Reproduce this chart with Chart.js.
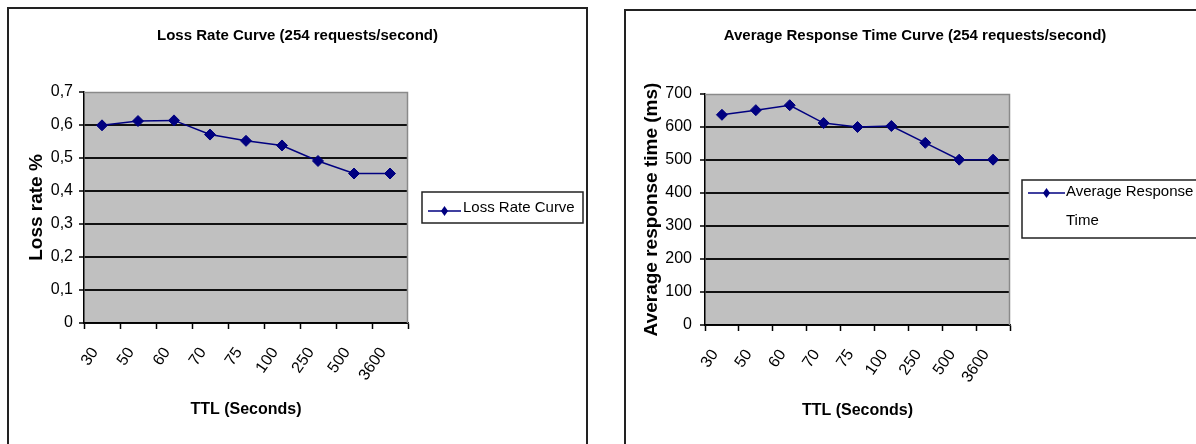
<!DOCTYPE html>
<html>
<head>
<meta charset="utf-8">
<title>TTL curves</title>
<script src="https://cdn.jsdelivr.net/npm/chart.js@4/dist/chart.umd.min.js"></script>
<style>
  html, body { margin: 0; padding: 0; background: #fff; }
  body { width: 1196px; height: 444px; overflow: hidden; position: relative; }
  .frame { position: absolute; box-sizing: border-box; border: 2px solid #222; background: #fff; overflow: hidden; }
  #frameLoss { left: 7px; top: 7px; width: 581px; height: 470px; }
  #frameResp { left: 624px; top: 9px; width: 610px; height: 470px; }
  canvas { display: block; }
</style>
</head>
<body>
<div class="frame" id="frameLoss"><canvas id="lossChart" width="577" height="436"></canvas></div>
<div class="frame" id="frameResp"><canvas id="respChart" width="578" height="436"></canvas></div>
<script>
// TTL values tested (seconds)
const ttlLabels = ['30', '50', '60', '70', '75', '100', '250', '500', '3600'];

// Loss rate (%) at 254 requests/second
const lossRate = [0.599, 0.612, 0.614, 0.571, 0.552, 0.538, 0.491, 0.453, 0.453];
const lossTicks = ['0', '0,1', '0,2', '0,3', '0,4', '0,5', '0,6', '0,7'];

// Average response time (ms) at 254 requests/second
const responseTime = [637, 651, 666, 612, 600, 603, 552, 501, 501];
const responseTicks = ['0', '100', '200', '300', '400', '500', '600', '700'];

const FONT = '"Liberation Sans", Arial, sans-serif';
const NAVY = '#000080';

// Grey plot area with a thin grey frame on the top and right edges
const plotFrame = {
  id: 'plotFrame',
  beforeDraw(chart) {
    const { ctx, chartArea: a } = chart;
    ctx.save();
    ctx.fillStyle = '#c0c0c0';
    ctx.fillRect(a.left, a.top, a.right - a.left, a.bottom - a.top);
    ctx.restore();
  },
  beforeDatasetsDraw(chart) {
    const { ctx, chartArea: a } = chart;
    ctx.save();
    ctx.strokeStyle = '#8a8a8a';
    ctx.lineWidth = 1.5;
    ctx.beginPath();
    ctx.moveTo(a.left, a.top + 0.5);
    ctx.lineTo(a.right - 0.5, a.top + 0.5);
    ctx.lineTo(a.right - 0.5, a.bottom);
    ctx.stroke();
    ctx.restore();
  }
};

// Boxed series key to the right of the plot
const seriesKey = {
  id: 'seriesKey',
  afterDraw(chart, args, opts) {
    const { ctx, chartArea: a } = chart;
    const ds = chart.data.datasets[0];
    const x = a.right + opts.dx, y = a.top + opts.dy;
    ctx.save();
    ctx.fillStyle = '#fff';
    ctx.fillRect(x, y, opts.w, opts.h);
    ctx.strokeStyle = '#222';
    ctx.lineWidth = 1.5;
    ctx.strokeRect(x, y, opts.w, opts.h);
    // sample line with marker
    const ly = y + opts.lineY;
    ctx.strokeStyle = ds.borderColor;
    ctx.lineWidth = 1.5;
    ctx.beginPath();
    ctx.moveTo(x + 6, ly);
    ctx.lineTo(x + 6 + opts.lineLen, ly);
    ctx.stroke();
    const mx = x + 6 + opts.lineLen / 2;
    ctx.fillStyle = ds.borderColor;
    ctx.beginPath();
    ctx.moveTo(mx, ly - 5);
    ctx.lineTo(mx + 3.5, ly);
    ctx.lineTo(mx, ly + 5);
    ctx.lineTo(mx - 3.5, ly);
    ctx.closePath();
    ctx.fill();
    // label, wrapped by words
    ctx.font = '15px ' + FONT;
    ctx.fillStyle = '#000';
    ctx.textBaseline = 'middle';
    const words = ds.label.split(' ');
    const lines = [];
    let cur = '';
    for (const w of words) {
      const t = cur ? cur + ' ' + w : w;
      if (cur && ctx.measureText(t).width > opts.maxText) { lines.push(cur); cur = w; }
      else cur = t;
    }
    lines.push(cur);
    lines.forEach((ln, i) => ctx.fillText(ln, x + opts.textX, y + opts.textY + i * opts.lineH));
    ctx.restore();
  }
};

function buildChart(id, cfg) {
  return new Chart(document.getElementById(id), {
    type: 'line',
    data: {
      labels: ttlLabels,
      datasets: [{
        label: cfg.series,
        data: cfg.values,
        borderColor: NAVY,
        backgroundColor: NAVY,
        borderWidth: 1.5,
        pointStyle: 'rectRot',
        pointRadius: 5.5,
        pointHoverRadius: 5.5,
        pointBackgroundColor: NAVY,
        pointBorderColor: NAVY,
        pointBorderWidth: 1,
        tension: 0,
        clip: false
      }]
    },
    options: {
      responsive: false,
      animation: false,
      events: [],
      layout: { padding: 0 },
      plugins: {
        legend: { display: false },
        tooltip: { enabled: false },
        title: {
          display: true,
          text: cfg.title,
          color: '#000',
          font: { family: FONT, size: 15, weight: 'bold', lineHeight: 1.2 },
          padding: { top: cfg.titleTop, bottom: 83 - cfg.titleTop - 18 }
        },
        seriesKey: cfg.key
      },
      scales: {
        x: {
          offset: true,
          grid: { offset: true, drawOnChartArea: false, tickLength: 6, tickColor: '#000', tickWidth: 1.5 },
          border: { color: '#000', width: 1.5 },
          ticks: {
            color: '#000',
            font: { family: FONT, size: 16 },
            minRotation: 55, maxRotation: 55, autoSkip: false,
            padding: 15, labelOffset: -7
          },
          title: {
            display: true,
            text: 'TTL (Seconds)',
            color: '#000',
            font: { family: FONT, size: 16, weight: 'bold', lineHeight: 1.2 },
            padding: { top: 0, bottom: cfg.xTitleBottom }
          },
          afterFit(s) { s.height = 122; }
        },
        y: {
          min: 0,
          max: cfg.max,
          ticks: {
            stepSize: cfg.step,
            color: '#000',
            font: { family: FONT, size: 16 },
            padding: cfg.yTickPad,
            callback: (v, i) => cfg.ticks[i]
          },
          grid: {
            color: c => (c.tick && c.tick.value === cfg.max) ? 'rgba(0,0,0,0)' : '#111',
            lineWidth: 2,
            tickLength: 5,
            tickColor: '#000',
            tickWidth: 1.5
          },
          border: { color: '#000', width: 1.5 },
          title: {
            display: true,
            text: cfg.yTitle,
            color: '#000',
            font: { family: FONT, size: 19, weight: 'bold', lineHeight: 1.2 },
            padding: { top: cfg.yTitlePad, bottom: 0 }
          },
          afterFit(s) { s.width = cfg.yWidth; }
        },
        keySpace: {
          type: 'linear',
          position: 'right',
          display: true,
          grid: { display: false },
          border: { display: false },
          ticks: { display: false },
          afterFit(s) { s.width = cfg.rightSpace; }
        }
      }
    },
    plugins: [plotFrame, seriesKey]
  });
}

buildChart('lossChart', {
  title: 'Loss Rate Curve (254 requests/second)',
  series: 'Loss Rate Curve',
  values: lossRate,
  ticks: lossTicks,
  max: 0.7, step: 0.1,
  yTitle: 'Loss rate %',
  titleTop: 18,
  yWidth: 75, yTickPad: 6, yTitlePad: 16,
  xTitleBottom: 25.4,
  rightSpace: 178,
  key: { dx: 14, dy: 100, w: 161, h: 31, lineY: 19, lineLen: 33, textX: 41, textY: 16, lineH: 29, maxText: 200 }
});

buildChart('respChart', {
  title: 'Average Response Time Curve (254 requests/second)',
  series: 'Average Response Time',
  values: responseTime,
  ticks: responseTicks,
  max: 700, step: 100,
  yTitle: 'Average response time (ms)',
  titleTop: 16,
  yWidth: 79, yTickPad: 8, yTitlePad: 14.5,
  xTitleBottom: 26.4,
  rightSpace: 194,
  key: { dx: 12, dy: 86, w: 220, h: 58, lineY: 13, lineLen: 37, textX: 44, textY: 12, lineH: 29, maxText: 135 }
});
</script>
</body>
</html>
